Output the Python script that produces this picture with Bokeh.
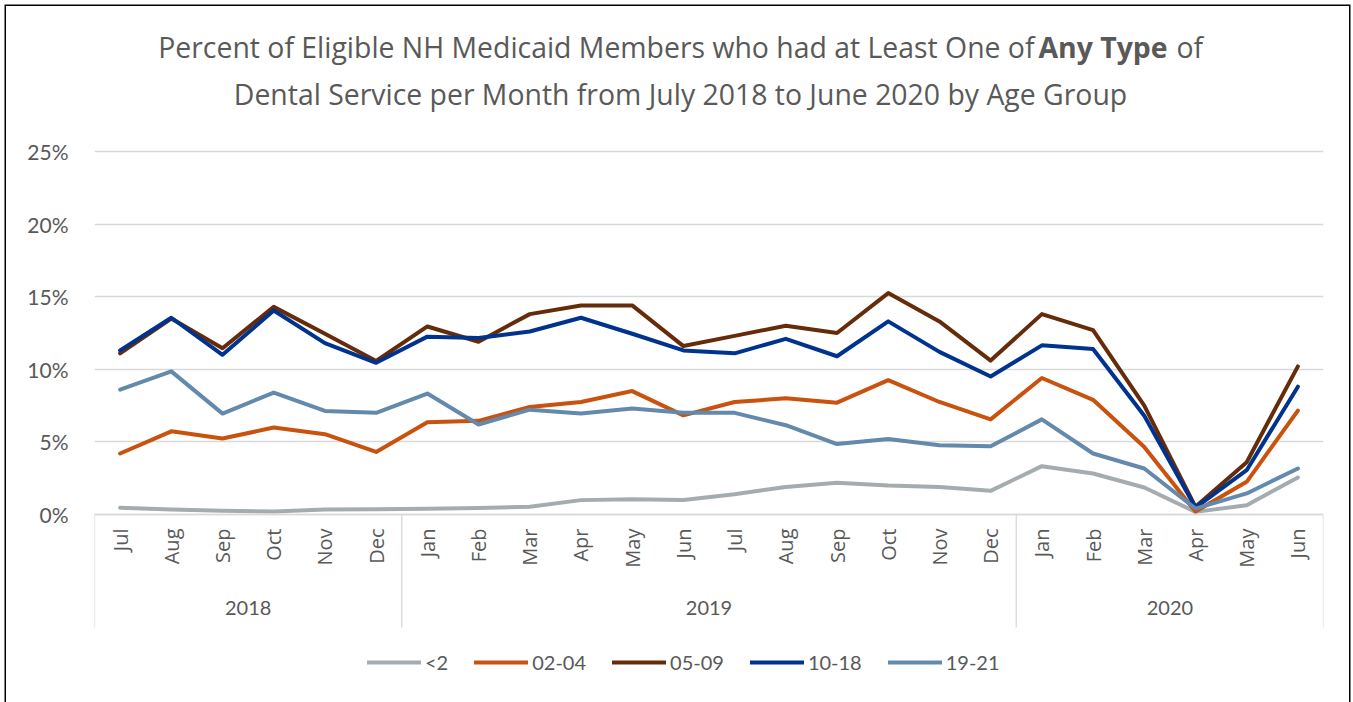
from math import pi
from bokeh.plotting import figure
from bokeh.models import (FactorRange, Range1d, Legend, LegendItem, Label,
                          FixedTicker, PrintfTickFormatter, ColumnDataSource)
from bokeh.core.properties import value
from bokeh.embed import file_html
from bokeh.resources import INLINE

# ---------------- data ----------------
years = ["2018"] * 6 + ["2019"] * 12 + ["2020"] * 6
months = ["Jul", "Aug", "Sep", "Oct", "Nov", "Dec",
          "Jan", "Feb", "Mar", "Apr", "May", "Jun", "Jul", "Aug", "Sep", "Oct", "Nov", "Dec",
          "Jan", "Feb", "Mar", "Apr", "May", "Jun"]
year_groups = ["2018", "2019", "2020"]
series_names = ["<2", "02-04", "05-09", "10-18", "19-21"]
lt2 = [0.46, 0.34, 0.25, 0.20, 0.34, 0.37, 0.39, 0.44, 0.53, 0.99, 1.05, 1.00,
       1.40, 1.90, 2.18, 2.00, 1.90, 1.63, 3.33, 2.82, 1.86, 0.18, 0.64, 2.55]
age_02_04 = [4.20, 5.73, 5.23, 5.99, 5.53, 4.31, 6.35, 6.45, 7.40, 7.75, 8.50, 6.83,
             7.75, 8.00, 7.70, 9.25, 7.75, 6.55, 9.40, 7.90, 4.65, 0.20, 2.25, 7.15]
age_05_09 = [11.10, 13.50, 11.45, 14.30, 12.45, 10.57, 12.95, 11.90, 13.80, 14.40, 14.40, 11.60,
             12.30, 13.00, 12.50, 15.25, 13.30, 10.60, 13.80, 12.70, 7.50, 0.53, 3.60, 10.20]
age_10_18 = [11.30, 13.55, 11.00, 14.05, 11.80, 10.45, 12.25, 12.15, 12.60, 13.55, 12.45, 11.30,
             11.10, 12.10, 10.90, 13.30, 11.20, 9.50, 11.65, 11.40, 6.80, 0.48, 3.05, 8.80]
age_19_21 = [8.60, 9.86, 6.95, 8.40, 7.13, 7.00, 8.33, 6.20, 7.22, 6.95, 7.30, 7.00,
             7.00, 6.15, 4.85, 5.20, 4.77, 4.70, 6.55, 4.20, 3.17, 0.41, 1.45, 3.17]
y_ticks = [0, 5, 10, 15, 20, 25]
colors = ["#A5ACAF", "#C8520E", "#662C0A", "#00338E", "#6389AD"]

TEXT = "#595959"
GRID = "#D9D9D9"

# ---------------- layout constants (pixels) ----------------
W, H = 1343, 696            # canvas size (placed at page 6,6)
ML, MR = 88, 26             # left / right borders of the frame
Y0_PX, Y25_PX = 508, 145    # canvas y of 0% and 25%
PX_PER_UNIT = (Y0_PX - Y25_PX) / 25.0
y_top = 25 + Y25_PX / PX_PER_UNIT
y_bottom = -(H - Y0_PX) / PX_PER_UNIT

factors = list(zip(years, months))
src = ColumnDataSource(dict(x=factors, s0=lt2, s1=age_02_04, s2=age_05_09, s3=age_10_18, s4=age_19_21))

x_range = FactorRange(*factors, range_padding=0, group_padding=0, factor_padding=0, subgroup_padding=0)
p = figure(width=W, height=H, x_range=x_range, y_range=Range1d(y_bottom, y_top),
           output_backend="svg", toolbar_location=None,
           min_border_left=ML, min_border_right=MR, min_border_top=0, min_border_bottom=0)
p.styles = {"margin-left": "6px", "margin-top": "6px", "box-shadow": "0 0 0 1.5px black"}
p.outline_line_color = None

# y axis / grid
p.yaxis.ticker = FixedTicker(ticks=y_ticks)
p.yaxis.formatter = PrintfTickFormatter(format="%d%%")
p.yaxis.axis_line_color = None
p.yaxis.major_tick_line_color = None
p.yaxis.minor_tick_line_color = None
p.yaxis.major_tick_out = 0
p.yaxis.major_tick_in = 0
p.yaxis.major_label_standoff = 26
p.yaxis.major_label_text_font = "Lato"
p.yaxis.major_label_text_font_size = "21px"
p.yaxis.major_label_text_color = TEXT
p.xgrid.grid_line_color = None
p.ygrid.grid_line_color = GRID
p.ygrid.grid_line_width = 1.3

# x axis at 0 %
p.xaxis.fixed_location = 0
p.xaxis.axis_line_color = GRID
p.xaxis.axis_line_width = 1.3
p.xaxis.major_tick_line_color = None
p.xaxis.minor_tick_line_color = None
p.xaxis.major_tick_out = 0
p.xaxis.major_tick_in = 0
p.xaxis.major_label_orientation = pi / 2
p.xaxis.major_label_text_font = "Open Sans"
p.xaxis.major_label_text_font_size = "20px"
p.xaxis.major_label_text_color = TEXT
p.xaxis.major_label_standoff = 14
p.xaxis.group_text_color = None
p.xaxis.separator_line_color = None

# year group labels and separators
p.text(x=year_groups, y=[(Y0_PX - 601) / PX_PER_UNIT] * 3, text=year_groups,
       text_font=value("Lato"), text_font_size="20px", text_color=TEXT,
       text_align="center", text_baseline="middle")
sep_x = [0, 6, 18, 24]
p.segment(x0=sep_x, y0=[0] * 4, x1=sep_x, y1=[(Y0_PX - 621) / PX_PER_UNIT] * 4,
          line_color=GRID, line_width=1.3)

# series lines
renderers = []
for i, name in enumerate(series_names):
    r = p.line("x", "s%d" % i, source=src, line_color=colors[i], line_width=4,
               line_join="round", line_cap="round")
    renderers.append(r)

# title (mixed weight), frame-relative screen units
title_parts = [
    ("Percent of Eligible NH Medicaid Members who had at Least One of", 940, 656, "right", "normal"),
    ("Any Type", 944, 656, "left", "bold"),
    ("of", 1082, 656, "left", "normal"),
    ("Dental Service per Month from July 2018 to June 2020 by Age Group", 586, 609, "center", "normal"),
]
for txt, x, y, align, weight in title_parts:
    p.add_layout(Label(x=x, y=y, x_units="screen", y_units="screen", text=txt,
                       text_align=align, text_baseline="middle", text_font="Open Sans",
                       text_font_size="28.4px", text_font_style=weight, text_color=TEXT))

legend = Legend(items=[LegendItem(label=n, renderers=[r]) for n, r in zip(series_names, renderers)],
                orientation="horizontal", location=(273, 28), glyph_width=54, glyph_height=20,
                label_standoff=4, spacing=26, label_text_font="Lato", label_text_font_size="20px",
                label_text_color=TEXT, border_line_color=None, background_fill_alpha=0,
                margin=0, padding=4)
p.add_layout(legend, "center")

open("out.html", "w").write(file_html(p, INLINE))
